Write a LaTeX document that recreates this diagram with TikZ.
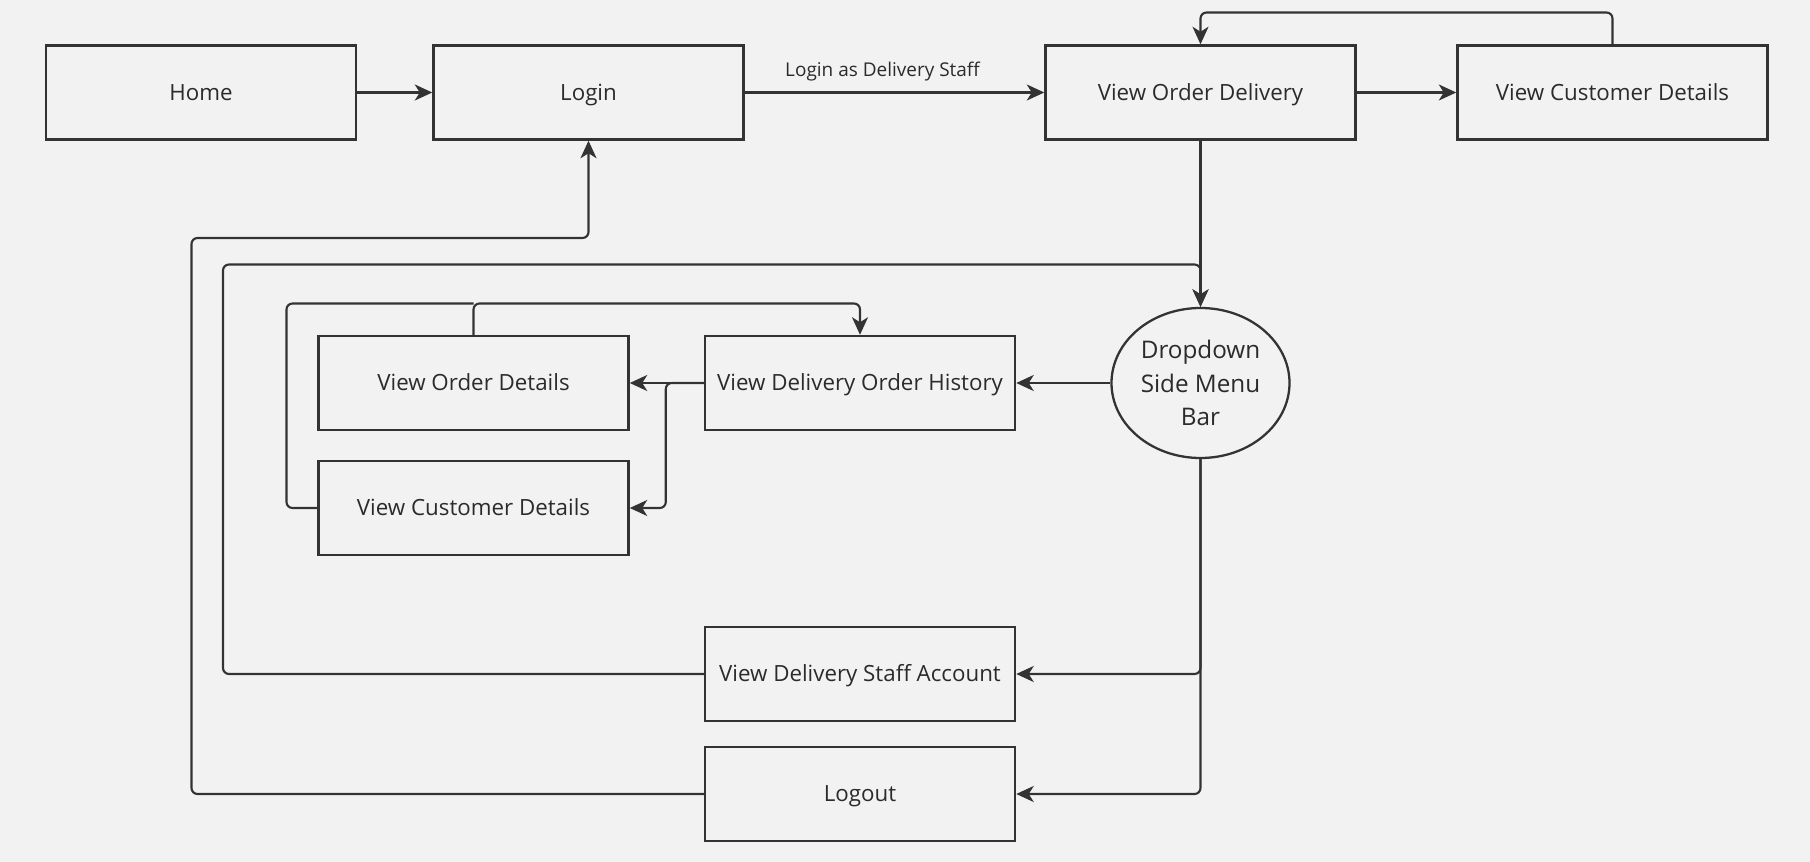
\documentclass[tikz,border=0pt]{standalone}
\usepackage{fontspec}
\setmainfont{Open Sans}
\usetikzlibrary{arrows.meta,positioning,shapes.geometric,calc}
\definecolor{cBg}{HTML}{F2F2F2}
\definecolor{cLine}{HTML}{333333}
\definecolor{cText}{HTML}{2B2B2B}
\tikzset{
  pagebox/.style={
    draw=cLine, line width=1.4pt, fill=cBg,
    minimum width=6.2cm, minimum height=1.88cm,
    text height=1.6ex, text depth=0pt,
    text centered, text=cText, font=\fontsize{12.7}{15}\selectfont,
  },
  menubox/.style={
    draw=cLine, line width=1.3pt, fill=cBg, ellipse,
    minimum width=3.56cm, minimum height=3.0cm, inner sep=0pt,
    align=center, text=cText, font=\fontsize{13.8}{19}\selectfont,
  },
  arr/.style={
    -{Stealth[length=3.5mm,width=3.2mm,inset=1mm]}, line width=1.2pt, draw=cLine,
    rounded corners=1.2mm,
  },
  link/.style={
    line width=1.2pt, draw=cLine, rounded corners=1.2mm,
  },
  edgelabel/.style={
    font=\fontsize{10.8}{12}\selectfont, text=cText, inner sep=1pt,
  },
}

\begin{document}
\begin{tikzpicture}

% ── canvas ──
\fill[cBg] (0,0) rectangle (36.2,-17.24);
\useasboundingbox (0,0) rectangle (36.2,-17.24);

% ── top row ──
\node[pagebox] (home)    at (4.02,-1.85)  {Home};
\node[pagebox] (login)   at (11.77,-1.85) {Login};
\node[pagebox] (vod)     at (24.01,-1.85) {View Order Delivery};
\node[pagebox] (vcdTop)  at (32.25,-1.85) {View Customer Details};

% ── menu and its pages ──
\node[menubox] (menu)    at (24.01,-7.66) {Dropdown\\Side Menu\\Bar};
\node[pagebox] (vdoh)    at (17.20,-7.66) {View Delivery Order History};
\node[pagebox] (vOrder)  at (9.47,-7.66)  {View Order Details};
\node[pagebox] (vCust)   at (9.47,-10.16) {View Customer Details};
\node[pagebox] (vdsa)    at (17.20,-13.48) {View Delivery Staff Account};
\node[pagebox] (logout)  at (17.20,-15.88) {Logout};

% ── routing points ──
\coordinate (topLoop)    at (0,-0.25);
\coordinate (loginLoop)  at (3.83,-4.76);
\coordinate (staffLoop)  at (4.46,-5.29);
\coordinate (histLoop)   at (5.73,-6.07);

% ── top row arrows ──
\draw[arr] (home) -- (login);
\draw[arr] (login) -- node[edgelabel, above=1.7mm, pos=0.46] {Login as Delivery Staff} (vod);
\draw[arr] (vod) -- (vcdTop);
\draw[arr] (vcdTop.north) -- (vcdTop.north |- topLoop) -| (vod.north);
\draw[arr] (vod) -- (menu);

% ── menu arrows ──
\draw[arr] (menu) -- (vdoh);
\draw[arr] (menu.south) |- (vdsa.east);
\draw[arr] (menu.south) |- (logout.east);

% ── history arrows ──
\draw[arr] (vdoh) -- (vOrder);
\draw[arr] (vdoh.west) -- ++(-0.76,0) |- (vCust.east);
\draw[arr] (vOrder.north) -- (vOrder.north |- histLoop) -| (vdoh.north);
\draw[link] (vCust.west) -| (histLoop) -- (vOrder.north |- histLoop);

% ── return arrows ──
\draw[arr] (vdsa.west) -| (staffLoop) -| (menu.north);
\draw[arr] (logout.west) -| (loginLoop) -| (login.south);

\end{tikzpicture}
\end{document}
